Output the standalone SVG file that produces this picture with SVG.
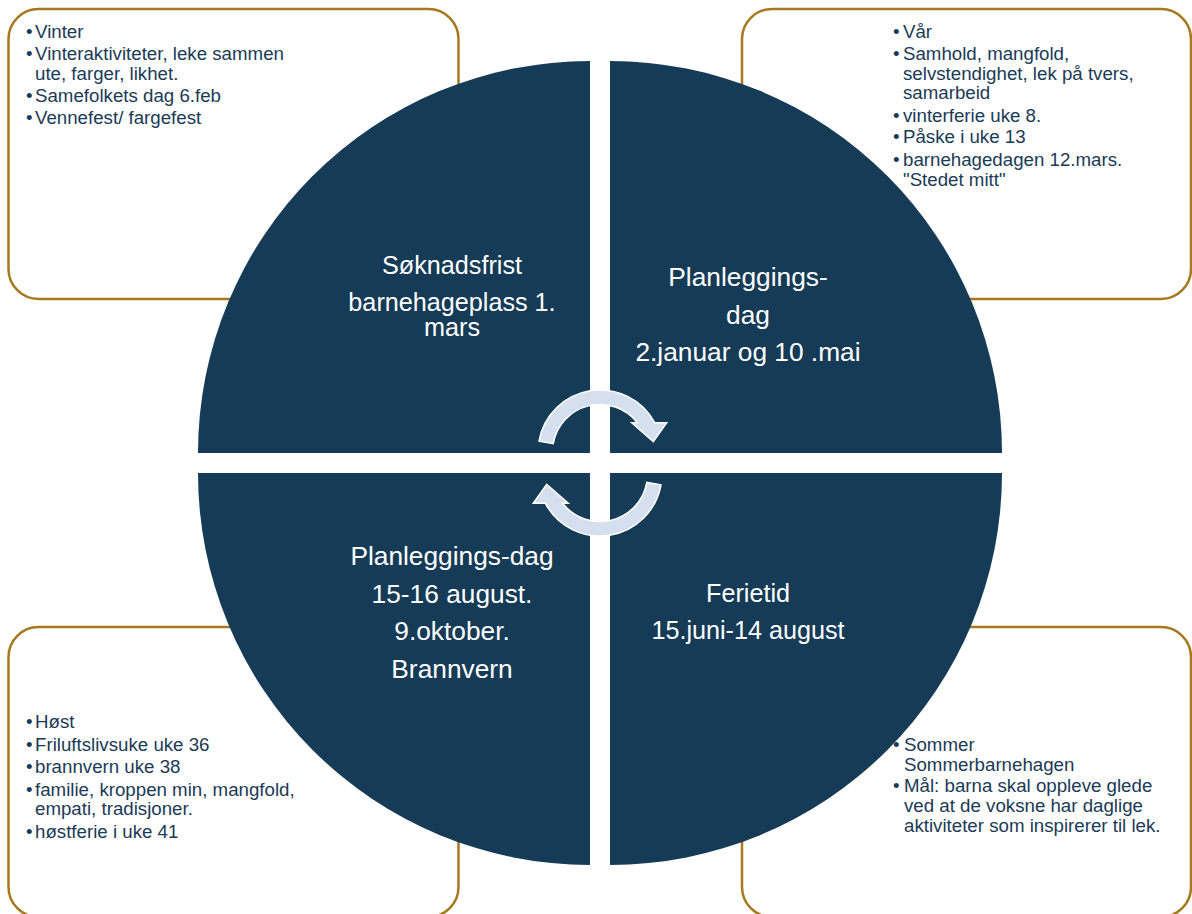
<svg xmlns="http://www.w3.org/2000/svg" width="1192" height="914" viewBox="0 0 1192 914">
<style>
.box{fill:#ffffff;stroke:#A7791F;stroke-width:2.5}
.bt{font-family:"Liberation Sans",Arial,sans-serif;font-size:18.7px;fill:#1A3A56}
.q{fill:#163B56}
.qt{font-family:"Liberation Sans",Arial,sans-serif;fill:#ffffff;text-anchor:middle}
.s1{font-size:25.2px}
.s2{font-size:26.3px}
.arr{fill:#D5E0EF;stroke:#ffffff;stroke-width:1.5;stroke-linejoin:miter}
</style>
<defs>
<path id="arrowShape" d="M539,441.2 A62 62 0 0 1 654.7,422.7 L666.7,422.7 L653.3,441.7 L631.7,422.7 L637.4,422.7 A47.5 47.5 0 0 0 553.2,443.7 Z"/>
</defs>
<rect width="1192" height="914" fill="#ffffff"/>
<g id="box-winter">
<rect class="box" x="8.5" y="9" width="450" height="290" rx="30"/>
<text class="bt" x="26" y="38">•</text><text class="bt" x="35" y="38">Vinter</text>
<text class="bt" x="26" y="60">•</text><text class="bt" x="35" y="60">Vinteraktiviteter, leke sammen</text>
<text class="bt" x="35" y="80">ute, farger, likhet.</text>
<text class="bt" x="26" y="102">•</text><text class="bt" x="35" y="102">Samefolkets dag 6.feb</text>
<text class="bt" x="26" y="124">•</text><text class="bt" x="35" y="124">Vennefest/ fargefest</text>
</g>
<g id="box-spring">
<rect class="box" x="742" y="9" width="449" height="290" rx="30"/>
<text class="bt" x="893" y="38">•</text><text class="bt" x="903" y="38">Vår</text>
<text class="bt" x="893" y="60">•</text><text class="bt" x="903" y="60">Samhold, mangfold,</text>
<text class="bt" x="903" y="80">selvstendighet, lek på tvers,</text>
<text class="bt" x="903" y="99">samarbeid</text>
<text class="bt" x="893" y="122">•</text><text class="bt" x="903" y="122">vinterferie uke 8.</text>
<text class="bt" x="893" y="143">•</text><text class="bt" x="903" y="143">Påske i uke 13</text>
<text class="bt" x="893" y="166">•</text><text class="bt" x="903" y="166">barnehagedagen 12.mars.</text>
<text class="bt" x="903" y="186">"Stedet mitt"</text>
</g>
<g id="box-autumn">
<rect class="box" x="8.5" y="627" width="450" height="290" rx="30"/>
<text class="bt" x="26" y="728">•</text><text class="bt" x="35" y="728">Høst</text>
<text class="bt" x="26" y="751">•</text><text class="bt" x="35" y="751">Friluftslivsuke uke 36</text>
<text class="bt" x="26" y="773">•</text><text class="bt" x="35" y="773">brannvern uke 38</text>
<text class="bt" x="26" y="796">•</text><text class="bt" x="35" y="796">familie, kroppen min, mangfold,</text>
<text class="bt" x="35" y="815">empati, tradisjoner.</text>
<text class="bt" x="26" y="838">•</text><text class="bt" x="35" y="838">høstferie i uke 41</text>
</g>
<g id="box-summer">
<rect class="box" x="742" y="627" width="449" height="290" rx="30"/>
<text class="bt" x="893" y="751">•</text><text class="bt" x="904" y="751">Sommer</text>
<text class="bt" x="904" y="771">Sommerbarnehagen</text>
<text class="bt" x="893" y="792">•</text><text class="bt" x="904" y="792">Mål: barna skal oppleve glede</text>
<text class="bt" x="904" y="812">ved at de voksne har daglige</text>
<text class="bt" x="904" y="832">aktiviteter som inspirerer til lek.</text>
</g>
<g id="quad-tl">
<path class="q" d="M590,453 L198,453 A392 392 0 0 1 590,61 Z"/>
<text class="qt s1" x="452" y="273.5">Søknadsfrist</text>
<text class="qt s1" x="452" y="310.5">barnehageplass 1.</text>
<text class="qt s1" x="452" y="336">mars</text>
</g>
<g id="quad-tr">
<path class="q" d="M610,453 L610,61 A392 392 0 0 1 1002,453 Z"/>
<text class="qt s2" x="748" y="286">Planleggings-</text>
<text class="qt s2" x="748" y="324">dag</text>
<text class="qt s2" x="748" y="361">2.januar og 10 .mai</text>
</g>
<g id="quad-br">
<path class="q" d="M610,473 L1002,473 A392 392 0 0 1 610,865 Z"/>
<text class="qt s1" x="748" y="601.5">Ferietid</text>
<text class="qt s1" x="748" y="638.5">15.juni-14 august</text>
</g>
<g id="quad-bl">
<path class="q" d="M590,473 L590,865 A392 392 0 0 1 198,473 Z"/>
<text class="qt s2" x="452" y="564.5">Planleggings-dag</text>
<text class="qt s2" x="452" y="602.5">15-16 august.</text>
<text class="qt s2" x="452" y="640">9.oktober.</text>
<text class="qt s2" x="452" y="677.5">Brannvern</text>
</g>
<g id="connectors">
<use href="#arrowShape" class="arr"/>
<use href="#arrowShape" class="arr" transform="rotate(180 600 463)"/>
</g>
</svg>
